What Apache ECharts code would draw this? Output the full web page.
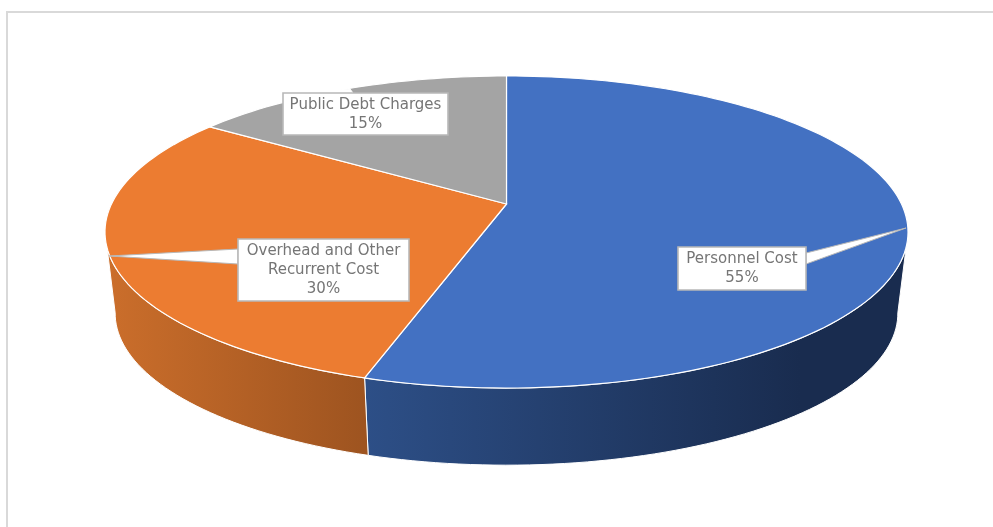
<!DOCTYPE html>
<html>
<head>
<meta charset="utf-8">
<style>
html,body{margin:0;padding:0;background:#fff;}
#chart{width:993px;height:527px;filter:blur(0.4px);}
</style>
<script src="https://cdn.jsdelivr.net/npm/echarts@6/dist/echarts.min.js"></script>
</head>
<body>
<div id="chart"></div>
<script>
// Data
var categories = ['Personnel Cost', 'Overhead and Other\nRecurrent Cost', 'Public Debt Charges'];
var shares = [55, 30, 15];

// Styles
var topColors = ['#4371C2', '#EC7C31', '#A4A4A4'];
var sideColors = [['#2D4F87', '#192C4F'], ['#CB6E2B', '#9E5420'], ['#A5A5A5', '#A5A5A5']];
var sideGradientX = [[364, 800], [107, 364], [0, 1]];

// Callout layout: box [x, y, w, h], leader polygon
var boxes = [[678, 247, 128, 43], [238, 239, 171, 62], [283, 93, 165, 42]];
var leaders = [
  [[806, 253], [906, 228], [806, 264]],
  [[238, 249], [109, 256], [238, 264]],
  [[288, 93], [350, 89], [353, 93]]
];
var leaderStrokes = ['#b8b8b8', '#b8b8b8', '#ffffff'];

// Perspective projection of the pie disc
var K = 0.1795;
var ANGLE_WARP = 2.2;
var TOP = {x: 506.5, y: 204, a: 395, b: 151};
var BOTTOM = {x: 506.5, y: 286, a: 385, b: 147};
var TOP_CLIP = [103.5, 256], BOTTOM_CLIP = [98, 262];

function project(p, deg) {
  var d = deg + ANGLE_WARP * Math.sin(deg * Math.PI / 180);
  var t = d * Math.PI / 180, u = Math.sin(t), v = Math.cos(t), w = 1 + K * v;
  return [p.x + p.a * u / w, p.y - p.b * v / w];
}
function arc(p, from, to) {
  var pts = [], n = Math.max(2, Math.ceil(Math.abs(to - from) / 1.5));
  for (var i = 0; i <= n; i++) pts.push(project(p, from + (to - from) * i / n));
  return pts;
}
var total = shares.reduce(function (a, b) { return a + b; }, 0);

function renderSlice(params, api) {
  var i = params.dataIndex, start = 0;
  for (var j = 0; j < i; j++) start += shares[j];
  var a0 = start / total * 360, a1 = (start + api.value(0)) / total * 360;
  var children = [];

  var tFrom = Math.max(a0, TOP_CLIP[0]), tTo = Math.min(a1, TOP_CLIP[1]);
  if (tTo > tFrom) {
    var bFrom = Math.max(a0, BOTTOM_CLIP[0]);
    var bTo = Math.min(a1, BOTTOM_CLIP[1]);
    var sidePts = arc(TOP, tFrom, tTo).concat(arc(BOTTOM, bFrom, bTo).reverse());
    children.push({
      type: 'polygon', z2: 1,
      shape: {points: sidePts},
      style: {
        fill: new echarts.graphic.LinearGradient(sideGradientX[i][0], 0, sideGradientX[i][1], 0, [
          {offset: 0, color: sideColors[i][0]},
          {offset: 1, color: sideColors[i][1]}
        ], true),
        stroke: '#fff', lineWidth: 1
      }
    });
  }
  children.push({
    type: 'polygon', z2: 2,
    shape: {points: [[TOP.x, TOP.y]].concat(arc(TOP, a0, a1))},
    style: {fill: topColors[i], stroke: '#fff', lineWidth: 1.2}
  });

  var b = boxes[i];
  children.push({
    type: 'polygon', z2: 10,
    shape: {points: leaders[i]},
    style: {fill: '#fff', stroke: leaderStrokes[i], lineWidth: 1}
  });
  children.push({
    type: 'rect', z2: 11,
    shape: {x: b[0], y: b[1], width: b[2], height: b[3]},
    style: {fill: '#fff', stroke: '#b8b8b8', lineWidth: 1.6}
  });
  children.push({
    type: 'text', z2: 12,
    x: b[0] + b[2] / 2, y: b[1] + b[3] / 2 + 0.5,
    style: {
      text: categories[i] + '\n' + api.value(0) + '%',
      align: 'center', verticalAlign: 'middle',
      font: '15px "DejaVu Sans", sans-serif',
      lineHeight: 19, fill: '#757575'
    }
  });
  return {type: 'group', children: children};
}

var chart = echarts.init(document.getElementById('chart'), null, {renderer: 'canvas'});
chart.setOption({
  animation: false,
  backgroundColor: '#fff',
  graphic: [{
    type: 'polyline', silent: true,
    shape: {points: [[7, 527], [7, 12], [993, 12]]},
    style: {stroke: '#d9d9d9', lineWidth: 2, fill: 'none'}
  }],
  series: [{
    type: 'custom',
    coordinateSystem: 'none',
    silent: true,
    renderItem: renderSlice,
    data: shares.map(function (v, i) { return {name: categories[i], value: [v]}; })
  }]
});
</script>
</body>
</html>
